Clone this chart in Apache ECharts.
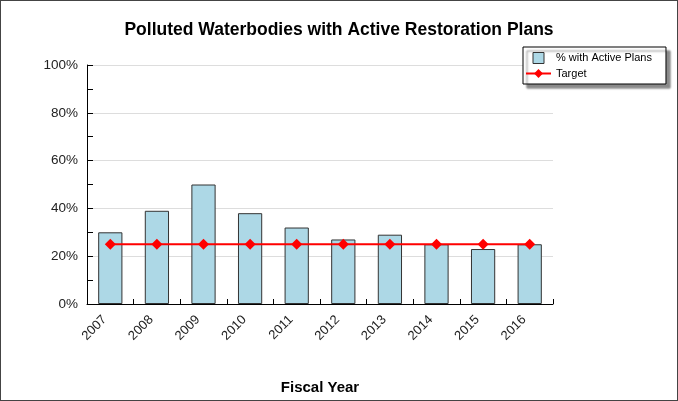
<!DOCTYPE html>
<html><head><meta charset="utf-8">
<script src="https://cdn.jsdelivr.net/npm/echarts@6/dist/echarts.min.js"></script>
<style>
html,body{margin:0;padding:0;background:#fff;}
#c{width:676px;height:399px;border:1px solid #444;}
</style></head>
<body><div id="c"></div>
<script>
const years = ['2007','2008','2009','2010','2011','2012','2013','2014','2015','2016'];
const activePlans = [30,39,50,38,32,27,29,25,23,25];
const target = [25,25,25,25,25,25,25,25,25,25];

const F = 'Liberation Sans, Arial, sans-serif';
const chart = echarts.init(document.getElementById('c'));
chart.setOption({
  animation:false,
  backgroundColor:'#fff',
  textStyle:{fontFamily:F},
  title:{text:'Polluted Waterbodies with Active Restoration Plans',left:'center',top:15,
    textStyle:{fontSize:17.5,fontWeight:'bold',color:'#000',fontFamily:F}},
  legend:{orient:'vertical',left:522,top:46,itemGap:4,itemWidth:25,itemHeight:11,
    backgroundColor:'#fff',borderColor:'#000',borderWidth:1,padding:[5,14,5,2],
    shadowColor:'rgba(0,0,0,0.45)',shadowOffsetX:4,shadowOffsetY:4,shadowBlur:2,
    textStyle:{fontSize:11,color:'#000',fontFamily:F},
    data:[{name:'% with Active Plans',icon:'path://M0,0h10v10h-10z',itemStyle:{color:'#ADD8E6',borderColor:'#333',borderWidth:1}},{name:'Target'}]},
  grid:{left:86,right:124,top:64,bottom:95},
  xAxis:{type:'category',data:years,name:'Fiscal Year',nameLocation:'middle',nameGap:76,
    nameTextStyle:{fontSize:15,fontWeight:'bold',color:'#000'},
    axisLine:{lineStyle:{color:'#000',width:1}},
    axisTick:{show:true,inside:true,length:5,lineStyle:{color:'#000'}},
    axisLabel:{rotate:45,fontSize:13,color:'#222',margin:8,padding:[0,8,0,0]}},
  yAxis:{type:'value',min:0,max:100,interval:20,
    axisLine:{show:true,lineStyle:{color:'#000'}},
    axisTick:{show:true,inside:true,length:6,lineStyle:{color:'#000'}},
    minorTick:{show:true,splitNumber:2,length:6,lineStyle:{color:'#000'}},
    axisLabel:{formatter:'{value}%',fontSize:13.5,color:'#222',margin:9},
    splitLine:{show:true,lineStyle:{color:'#ddd'}}},
  series:[
    {name:'% with Active Plans',type:'bar',data:activePlans,barWidth:'52%',
      itemStyle:{color:'#ADD8E6',borderColor:'#333',borderWidth:1}},
    {name:'Target',type:'line',data:target,symbol:'diamond',symbolSize:11,
      lineStyle:{color:'#FF0000',width:2},itemStyle:{color:'#FF0000'}}
  ]
});
</script></body></html>
